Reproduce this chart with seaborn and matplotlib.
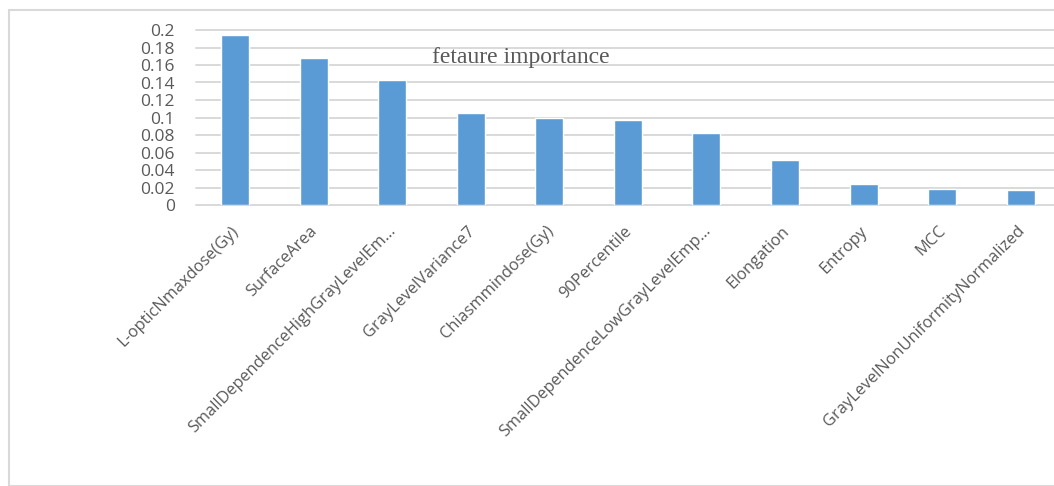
import matplotlib
matplotlib.use("Agg")
import matplotlib.pyplot as plt
from matplotlib.patches import Rectangle
import matplotlib.transforms as mtransforms
import seaborn as sns
import pandas as pd

features = [
    "L-opticNmaxdose(Gy)",
    "SurfaceArea",
    "SmallDependenceHighGrayLevelEm…",
    "GrayLevelVariance7",
    "Chiasmmindose(Gy)",
    "90Percentile",
    "SmallDependenceLowGrayLevelEmp…",
    "Elongation",
    "Entropy",
    "MCC",
    "GrayLevelNonUniformityNormalized",
]
importance = [0.194, 0.1676, 0.1429, 0.1055, 0.0998, 0.0971,
              0.0827, 0.0511, 0.0236, 0.0183, 0.0171]
y_ticks = [0, 0.02, 0.04, 0.06, 0.08, 0.1, 0.12, 0.14, 0.16, 0.18, 0.2]
y_tick_labels = ["0", "0.02", "0.04", "0.06", "0.08", "0.1",
                 "0.12", "0.14", "0.16", "0.18", "0.2"]
title_text = "fetaure importance"

df = pd.DataFrame({"feature": features, "importance": importance})

sns.set_theme(style="white")
plt.rcParams["font.family"] = ["Open Sans", "DejaVu Sans"]

W, H = 1054, 486
fig = plt.figure(figsize=(W / 100, H / 100), dpi=100)
fig.patch.set_facecolor("white")

# light chart frame around the whole drawing
fig.patches.append(Rectangle((9 / W, 0), 1.2, 1 - 10 / H, transform=fig.transFigure,
                             fill=False, edgecolor="#d9d9d9", linewidth=1.5))

left = 195.7 / W
right = 1060 / W
bottom = 1 - 205 / H
top = 1 - 30 / H
ax = fig.add_axes([left, bottom, right - left, top - bottom])
ax.set_facecolor("none")

sns.barplot(data=df, x="feature", y="importance", color="#5B9BD5",
            saturation=1, width=0.356, ax=ax, zorder=3)

ax.set_ylim(0, 0.2)
ax.set_xlim(-0.5, len(features) - 0.5)
ax.set_yticks(y_ticks)
ax.set_yticklabels(y_tick_labels)
for y in y_ticks:
    ax.axhline(y, color="#d9d9d9", linewidth=1.4, zorder=1, clip_on=False)

for s in ax.spines.values():
    s.set_visible(False)
ax.tick_params(axis="y", length=0, pad=15, labelsize=12.5, labelcolor="#595959")
ax.tick_params(axis="x", length=0, pad=13, labelsize=11.8, labelcolor="#595959")
ax.set_xlabel("")
ax.set_ylabel("")
shift = mtransforms.ScaledTranslation(-4 / 100, 0, fig.dpi_scale_trans)
for lbl in ax.get_xticklabels():
    lbl.set_rotation(45)
    lbl.set_ha("right")
    lbl.set_rotation_mode("anchor")
    lbl.set_transform(lbl.get_transform() + shift)

ax.text(520.5 / W, 1 - 58 / H, title_text, transform=fig.transFigure,
        ha="center", va="center", fontsize=17, color="#595959",
        family=["Liberation Serif", "DejaVu Serif"], zorder=4)

fig.savefig("out.png", dpi=100, facecolor="white")
